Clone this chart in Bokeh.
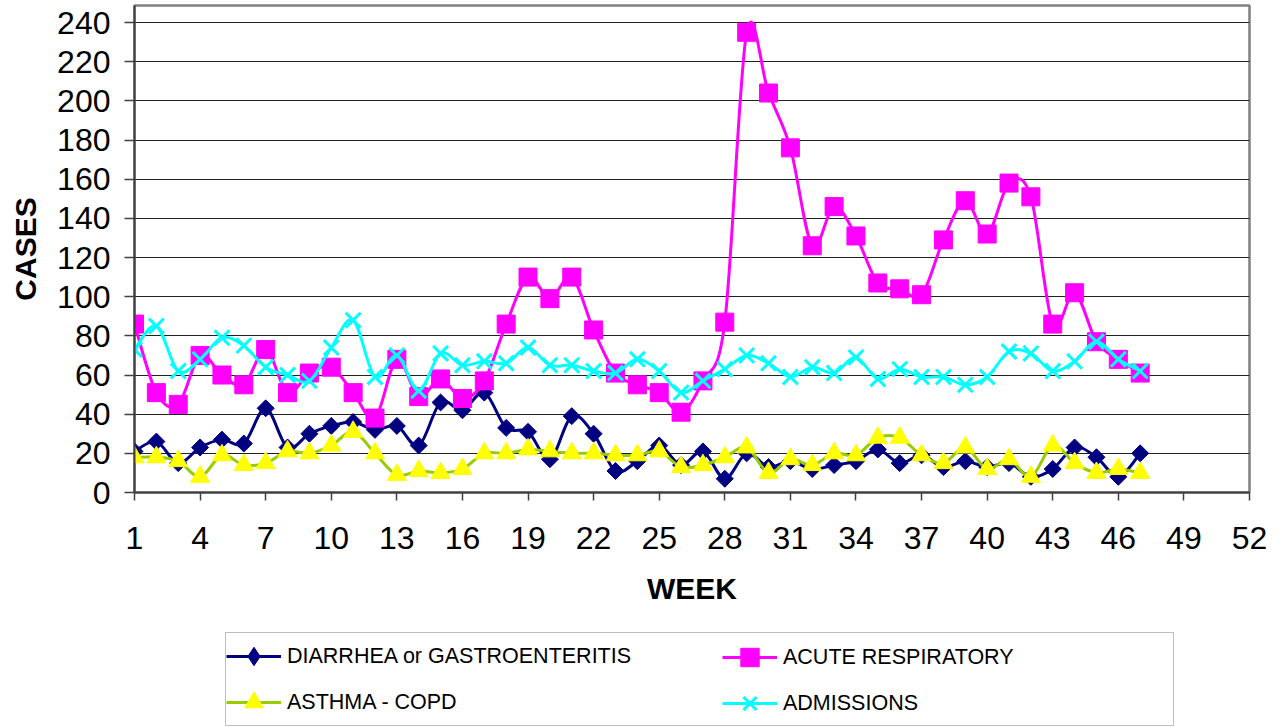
import numpy as np
from bokeh.plotting import figure
from bokeh.layouts import column
from bokeh.models import FixedTicker, Legend, LegendItem, ColumnDataSource, Range1d
from bokeh.embed import file_html
from bokeh.resources import INLINE

weeks = list(range(1, 48))
diarrhea = [21, 26, 15, 23, 27, 25, 43, 23, 30, 34, 36, 32, 34, 24, 46, 42, 51, 33, 31, 17,
            39, 30, 11, 16, 24, 14, 21, 7, 20, 13, 16, 12, 14, 16, 22, 15, 19, 13, 16, 13,
            15, 8, 12, 23, 18, 8, 20]
acute = [86, 51, 45, 70, 60, 55, 73, 51, 61, 64, 51, 38, 68, 49, 58, 48, 57, 86, 110, 99,
         110, 83, 61, 55, 51, 41, 57, 87, 235, 204, 176, 126, 146, 131, 107, 104, 101, 129, 149, 132,
         158, 151, 86, 102, 77, 68, 61]
asthma = [18, 18, 16, 8, 19, 14, 15, 21, 20, 24, 31, 20, 9, 11, 10, 12, 20, 20, 22, 21,
          20, 20, 19, 19, 21, 13, 14, 18, 23, 10, 17, 14, 20, 19, 28, 28, 19, 15, 23, 12,
          17, 8, 24, 15, 10, 12, 10]
admissions = [73, 85, 62, 68, 79, 75, 64, 60, 57, 74, 88, 59, 70, 52, 71, 65, 67, 66, 74, 65,
              65, 62, 61, 68, 62, 51, 57, 63, 70, 66, 59, 64, 61, 69, 58, 63, 59, 59, 55, 59,
              72, 71, 62, 67, 77, 68, 62]

x_ticks = list(range(1, 53, 3))
y_ticks = list(range(0, 241, 20))
series_names = ["DIARRHEA or GASTROENTERITIS", "ACUTE RESPIRATORY", "ASTHMA - COPD", "ADMISSIONS"]

FONT = "Liberation Sans"


def smooth_source(xs, ys):
    pts = np.column_stack([np.asarray(xs, float), np.asarray(ys, float)])
    n = len(pts)
    d = dict(x0=[], y0=[], x1=[], y1=[], cx0=[], cy0=[], cx1=[], cy1=[])
    for i in range(n - 1):
        p0 = pts[max(i - 1, 0)]
        p1 = pts[i]
        p2 = pts[i + 1]
        p3 = pts[min(i + 2, n - 1)]
        c0 = p1 + (p2 - p0) / 6.0
        c1 = p2 - (p3 - p1) / 6.0
        d["x0"].append(p1[0]); d["y0"].append(p1[1])
        d["x1"].append(p2[0]); d["y1"].append(p2[1])
        d["cx0"].append(c0[0]); d["cy0"].append(c0[1])
        d["cx1"].append(c1[0]); d["cy1"].append(c1[1])
    return ColumnDataSource(d)


W = 1280
p = figure(width=W, height=631, x_range=Range1d(1, 52), y_range=Range1d(0, 248.7),
           output_backend="svg", toolbar_location=None,
           min_border_left=134, min_border_right=W - 1249, min_border_top=5,
           min_border_bottom=631 - 492)

p.background_fill_color = "white"
p.outline_line_color = "#808080"
p.outline_line_width = 2.5

p.xgrid.visible = False
p.ygrid.ticker = FixedTicker(ticks=y_ticks)
p.ygrid.grid_line_color = "#222222"
p.ygrid.grid_line_width = 1

for ax in (p.xaxis[0], p.yaxis[0]):
    ax.axis_line_color = "#404040"
    ax.axis_line_width = 2
    ax.major_tick_line_color = "#404040"
    ax.major_tick_line_width = 1.5
    ax.major_tick_in = 0
    ax.minor_tick_line_color = None
    ax.major_label_text_font = FONT
    ax.major_label_text_font_size = "32px"
    ax.major_label_text_color = "black"
    ax.axis_label_text_font = FONT
    ax.axis_label_text_font_size = "30px"
    ax.axis_label_text_font_style = "bold"
    ax.axis_label_text_color = "black"

p.xaxis[0].ticker = FixedTicker(ticks=x_ticks)
p.xaxis[0].major_tick_out = 8
p.xaxis[0].major_label_standoff = 26
p.xaxis[0].axis_label = "WEEK"
p.xaxis[0].axis_label_standoff = 20

p.yaxis[0].ticker = FixedTicker(ticks=y_ticks)
p.yaxis[0].major_tick_out = 10
p.yaxis[0].major_label_standoff = 14
p.yaxis[0].axis_label = "CASES"
p.yaxis[0].axis_label_standoff = 12

# values, line colour, marker fill, marker outline, marker (plot), size, angle, marker (legend)
styles = [
    (diarrhea, "#000080", "#000080", "#000080", "square", 12, np.pi / 4, "diamond"),
    (acute, "#FF00FF", "#FF00FF", "#FF00FF", "square", 18, 0.0, "square"),
    (asthma, "#99CC00", "#FFFF00", "#FFFF00", "triangle", 19, 0.0, "triangle"),
    (admissions, "#00FFFF", None, "#00FFFF", "x", 21, 0.0, "x"),
]

# legend strip below the chart (its ranges keep the legend-only glyphs out of view)
q = figure(width=W, height=96, x_range=Range1d(-2, -1), y_range=Range1d(-2, -1),
           output_backend="svg", toolbar_location=None,
           x_axis_type=None, y_axis_type=None,
           min_border_left=0, min_border_right=0, min_border_top=0, min_border_bottom=0)
q.outline_line_color = None
q.xgrid.visible = False
q.ygrid.visible = False

items = []
for (vals, lc, fc, mc, mk, sz, ang, lmk), name in zip(styles, series_names):
    src = smooth_source(weeks, vals)
    p.bezier(x0="x0", y0="y0", x1="x1", y1="y1", cx0="cx0", cy0="cy0",
             cx1="cx1", cy1="cy1", source=src, line_color=lc, line_width=3)
    p.scatter(weeks, vals, marker=mk, size=sz, angle=ang, fill_color=fc, line_color=mc,
              line_width=3 if mk == "x" else 1)
    l1 = q.line(weeks, vals, line_color=lc, line_width=3)
    l2 = q.scatter(weeks, vals, marker=lmk, fill_color=fc, line_color=mc,
                   line_width=3 if mk == "x" else 1)
    items.append(LegendItem(label=name, renderers=[l1, l2]))

common = dict(label_text_font=FONT, label_text_font_size="21.5px", label_text_color="black",
              glyph_width=55, glyph_height=46, label_height=46, label_standoff=6,
              spacing=0, padding=0, margin=0)

legA = Legend(items=[items[0], items[2]], location=(91, 1), label_width=886,
              border_line_color="#808080", border_line_width=1.5,
              background_fill_color="white", background_fill_alpha=1.0, **common)
legB = Legend(items=[items[1], items[3]], location=(588, 1), label_width=20,
              border_line_alpha=0, background_fill_alpha=0, **common)
q.add_layout(legA, "center")
q.add_layout(legB, "center")

layout = column(p, q, spacing=0)
open("out.html", "w").write(file_html(layout, INLINE))
